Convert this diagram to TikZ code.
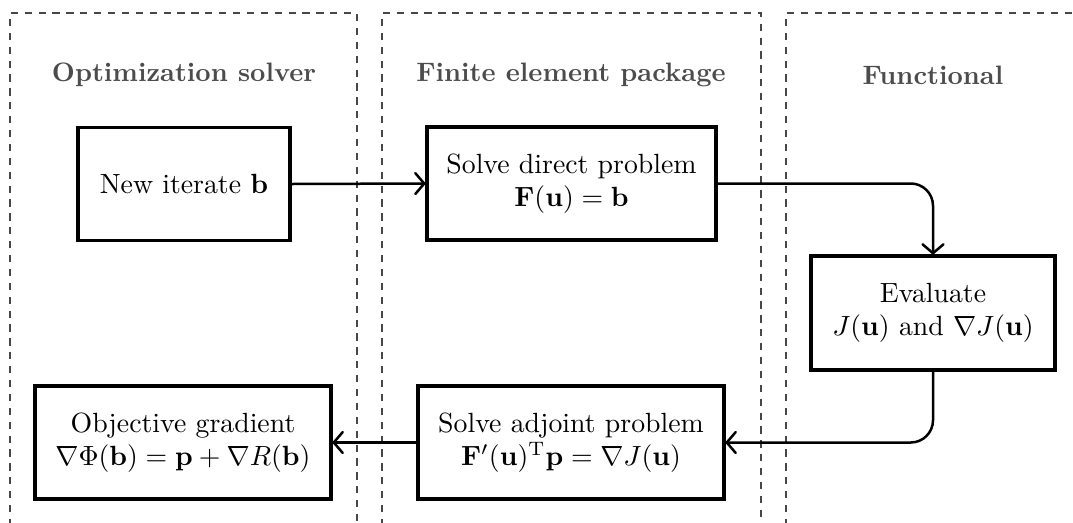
\documentclass[tikz,border=0pt]{standalone}
\usetikzlibrary{arrows.meta}
\begin{document}
\begin{tikzpicture}[x=0.36pt,y=-0.36pt,
  blk/.style={draw, line width=1.1pt, align=center, font=\normalsize, inner sep=0pt},
  lane/.style={draw=black!72, line width=0.75pt, dash pattern=on 2.6pt off 2.4pt},
  ttl/.style={text=black!70, font=\fontsize{9.6}{11.5}\selectfont\bfseries},
  conn/.style={line width=0.9pt, -{Straight Barb[length=3.2pt,width=7.5pt,round]}, rounded corners=8pt}]
\useasboundingbox (0,0) rectangle (1073,522);
\draw[lane] (10,540) -- (10,13) -- (357,13) -- (357,540);
\draw[lane] (382,540) -- (382,13) -- (761,13) -- (761,540);
\draw[lane] (786,540) -- (786,13) -- (1090,13);
\node[ttl] (t1) at (184,75) {Optimization solver};
\node[ttl] (t2) at (571,75) {Finite element package};
\node[ttl] (t3) at (933,75) {Functional};
\node[blk, minimum width={212*0.36pt}, minimum height={113*0.36pt}] (nb) at (184,184) {New iterate $\mathbf{b}$};
\node[blk, minimum width={289*0.36pt}, minimum height={113*0.36pt}] (sd) at (571.5,183.5) {Solve direct problem\\$\mathbf{F}(\mathbf{u})=\mathbf{b}$};
\node[blk, minimum width={244*0.36pt}, minimum height={114*0.36pt}] (ev) at (933,313) {Evaluate\\$J(\mathbf{u})$ and $\nabla J(\mathbf{u})$};
\node[blk, minimum width={306*0.36pt}, minimum height={113*0.36pt}] (sa) at (571,442.5) {Solve adjoint problem\\$\mathbf{F}'(\mathbf{u})^{\mathrm{T}}\mathbf{p}=\nabla J(\mathbf{u})$};
\node[blk, minimum width={296*0.36pt}, minimum height={113*0.36pt}] (og) at (183,442.5) {Objective gradient\\$\nabla\Phi(\mathbf{b})=\mathbf{p}+\nabla R(\mathbf{b})$};
\draw[conn] (nb.east) -- (sd.west);
\draw[conn] (sd.east) -| (ev.north);
\draw[conn] (ev.south) |- (sa.east);
\draw[conn] (sa.west) -- (og.east);
\end{tikzpicture}
\end{document}
